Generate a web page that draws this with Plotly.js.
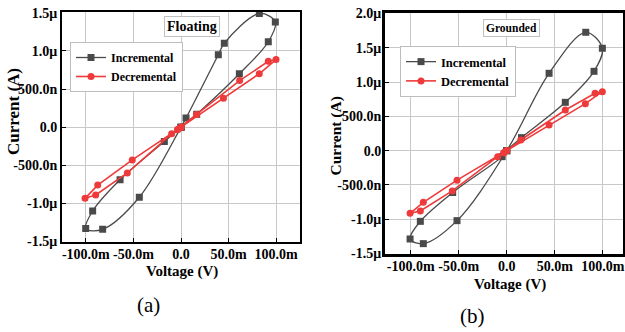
<!DOCTYPE html>
<html>
<head>
<meta charset="utf-8">
<script src="https://cdn.plot.ly/plotly-3.0.1.min.js"></script>
<style>html,body{margin:0;padding:0;background:#fff}#chart{width:625px;height:332px}</style>
</head>
<body>
<div id="chart"></div>
<script>
// Floating (a): voltage in mV, current in µA
var incV_a = [0, 5.3, 39.2, 45.5, 82.3, 99.1, 91.7, 61.3, 16.5, 0, -17.5, -64.0, -92.8, -100.1, -82.3, -43.8, 0];
var incI_a = [0, 0.12, 0.95, 1.10, 1.49, 1.38, 1.12, 0.70, 0.17, 0, -0.19, -0.69, -1.10, -1.33, -1.34, -0.92, 0];
var decV_a = [0, 44.6, 82.2, 99.8, 91.7, 61.6, 16.2, 0, -3.5, -9.8, -56.4, -89.6, -100.8, -87.5, -51.2, -3.5, 0];
var decI_a = [0, 0.38, 0.70, 0.886, 0.863, 0.61, 0.165, 0, -0.03, -0.088, -0.60, -0.89, -0.934, -0.76, -0.43, -0.03, 0];
// Grounded (b)
var incV_b = [0, 44.1, 82.3, 99.6, 90.9, 61.0, 15.4, 0, -4.8, -56.3, -90.0, -100.7, -86.9, -51.8, 0];
var incI_b = [0, 1.128, 1.726, 1.493, 1.157, 0.705, 0.19, 0, -0.087, -0.61, -1.03, -1.287, -1.355, -1.02, 0];
var decV_b = [0, 44.1, 81.9, 99.6, 92.0, 61.0, 14.6, 0, -3.0, -9.4, -56.7, -90.0, -100.7, -86.9, -51.8, -3.0, 0];
var decI_b = [0, 0.375, 0.685, 0.86, 0.836, 0.593, 0.156, 0, -0.03, -0.087, -0.587, -0.879, -0.913, -0.752, -0.43, -0.03, 0];

var xTickVals = [-100, -50, 0, 50, 100];
var xTickText = ["-100.0m", "-50.0m", "0.0", "50.0m", "100.0m"];
var yTickVals_a = [-1.5, -1.0, -0.5, 0, 0.5, 1.0, 1.5];
var yTickText_a = ["-1.5\u03bc", "-1.0\u03bc", "-500.0n", "0.0", "500.0n", "1.0\u03bc", "1.5\u03bc"];
var yTickVals_b = [-1.5, -1.0, -0.5, 0, 0.5, 1.0, 1.5, 2.0];
var yTickText_b = ["-1.5\u03bc", "-1.0\u03bc", "-500.0n", "0.0", "500.0n", "1.0\u03bc", "1.5\u03bc", "2.0\u03bc"];
var seriesNames = ["Incremental", "Decremental"];

var FONT = "Liberation Serif";
var GRAY = "#4a4a4a", RED = "#ee3a3a";

function incTrace(x, y, xa, ya, lg) {
  return {x: x, y: y, xaxis: xa, yaxis: ya, legend: lg, name: seriesNames[0], type: "scatter",
    mode: "lines+markers", line: {color: GRAY, width: 1.3, shape: "spline", smoothing: 1},
    marker: {symbol: "square", size: 7, color: GRAY}};
}
function decTrace(x, y, xa, ya, lg) {
  return {x: x, y: y, xaxis: xa, yaxis: ya, legend: lg, name: seriesNames[1], type: "scatter",
    mode: "lines+markers", line: {color: RED, width: 1.6},
    marker: {symbol: "circle", size: 7, color: RED}};
}

var data = [
  incTrace(incV_a, incI_a, "x", "y", "legend"),
  decTrace(decV_a, decI_a, "x", "y", "legend"),
  incTrace(incV_b, incI_b, "x2", "y2", "legend2"),
  decTrace(decV_b, decI_b, "x2", "y2", "legend2")
];

var tickFont = {family: FONT, size: 14, color: "#000", weight: "bold"};
function xAxis(domain, range, lw, standoff) {
  return {domain: domain, range: range, tickmode: "array", tickvals: xTickVals, ticktext: xTickText,
    showgrid: true, gridcolor: "#c8c8c8", gridwidth: 1, zeroline: false,
    showline: true, linecolor: "#000", linewidth: lw, mirror: true,
    ticks: "inside", ticklen: 4, tickcolor: "#000", tickfont: tickFont, ticklabelstandoff: standoff};
}
function yAxis(domain, range, vals, text, lw, anchor, standoff) {
  return {domain: domain, range: range, anchor: anchor, tickmode: "array", tickvals: vals, ticktext: text,
    showgrid: true, gridcolor: "#c8c8c8", gridwidth: 1, zeroline: false,
    showline: true, linecolor: "#000", linewidth: lw, mirror: true,
    ticks: "inside", ticklen: 4, tickcolor: "#000", tickfont: tickFont, ticklabelstandoff: standoff};
}

var W = 625, H = 332;
function px(x) { return x / W; }
function py(y) { return 1 - y / H; }

var layout = {
  width: W, height: H,
  margin: {l: 0, r: 0, t: 0, b: 0},
  paper_bgcolor: "#fff", plot_bgcolor: "#fff",
  font: {family: FONT},
  showlegend: true,
  xaxis: Object.assign(xAxis([px(62), px(300)], [-125, 125], 2, -1), {anchor: "y"}),
  yaxis: yAxis([py(241.5), py(12)], [-1.5, 1.51], yTickVals_a, yTickText_a, 2, "x", 0),
  xaxis2: Object.assign(xAxis([px(385), px(623)], [-126.8, 121.1], 3, -3), {anchor: "y2"}),
  yaxis2: yAxis([py(254), py(13)], [-1.506, 2.007], yTickVals_b, yTickText_b, 3, "x2", -2),
  legend: {x: px(70), y: py(42), xanchor: "left", yanchor: "top", bgcolor: "#fff",
    bordercolor: "#bdbdbd", borderwidth: 1, font: {family: FONT, size: 12, color: "#000", weight: "bold"},
    itemwidth: 30, tracegroupgap: 0},
  legend2: {x: px(400), y: py(46), xanchor: "left", yanchor: "top", bgcolor: "#fff",
    bordercolor: "#bdbdbd", borderwidth: 1, font: {family: FONT, size: 12.5, color: "#000", weight: "bold"},
    itemwidth: 30, tracegroupgap: 0},
  annotations: [
    {text: "Floating", xref: "paper", yref: "paper", x: px(192), y: py(26.5), xanchor: "center", yanchor: "middle",
     showarrow: false, font: {family: FONT, size: 14, color: "#000", weight: "bold"},
     bordercolor: "#c0c0c0", borderwidth: 1, borderpad: 2, bgcolor: "#fff"},
    {text: "Grounded", xref: "paper", yref: "paper", x: px(511), y: py(28), xanchor: "center", yanchor: "middle",
     showarrow: false, font: {family: FONT, size: 11.5, color: "#000", weight: "bold"},
     bordercolor: "#c0c0c0", borderwidth: 1, borderpad: 2, bgcolor: "#fff"},
    {text: "Voltage (V)", xref: "paper", yref: "paper", x: px(181.7), y: py(271), xanchor: "center", yanchor: "middle",
     showarrow: false, font: {family: FONT, size: 15, color: "#000", weight: "bold"}},
    {text: "Current (A)", xref: "paper", yref: "paper", x: px(14), y: py(112), xanchor: "center", yanchor: "middle",
     textangle: -90, showarrow: false, font: {family: FONT, size: 17, color: "#000", weight: "bold"}},
    {text: "Voltage (V)", xref: "paper", yref: "paper", x: px(510), y: py(284), xanchor: "center", yanchor: "middle",
     showarrow: false, font: {family: FONT, size: 15, color: "#000", weight: "bold"}},
    {text: "Current (A)", xref: "paper", yref: "paper", x: px(335.5), y: py(136), xanchor: "center", yanchor: "middle",
     textangle: -90, showarrow: false, font: {family: FONT, size: 15.5, color: "#000", weight: "bold"}},
    {text: "(a)", xref: "paper", yref: "paper", x: px(148), y: py(304.5), xanchor: "center", yanchor: "middle",
     showarrow: false, font: {family: FONT, size: 21, color: "#000"}},
    {text: "(b)", xref: "paper", yref: "paper", x: px(472.5), y: py(315.5), xanchor: "center", yanchor: "middle",
     showarrow: false, font: {family: FONT, size: 21, color: "#000"}}
  ]
};

Plotly.newPlot("chart", data, layout, {staticPlot: true, displayModeBar: false});
</script>
</body>
</html>
